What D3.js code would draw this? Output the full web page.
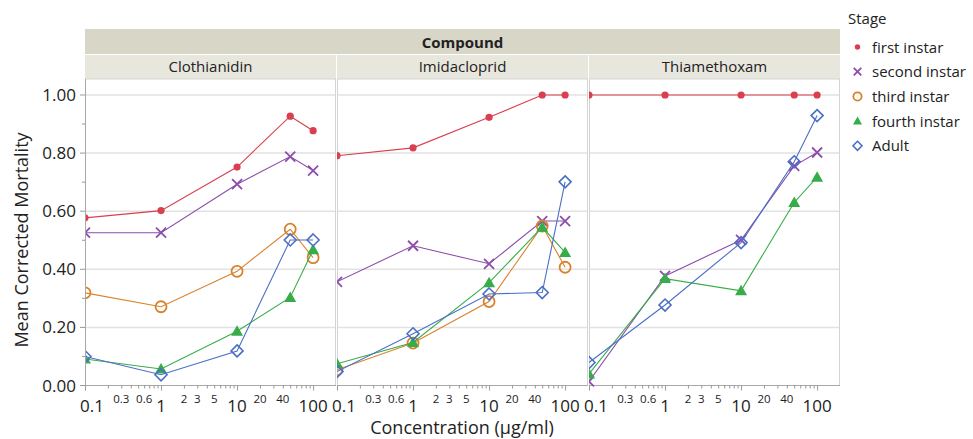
<!DOCTYPE html>
<html>
<head>
<meta charset="utf-8">
<script src="https://cdn.jsdelivr.net/npm/d3@7"></script>
<style>
  body { margin: 0; background: #fff; }
  text { font-family: "Segoe UI", "Open Sans", "Noto Sans", sans-serif; fill: #222; }
</style>
</head>
<body>
<svg id="chart" width="973" height="439"></svg>
<script>
// data
const concentrations = [0.1, 1, 10, 50, 100];
const compounds = ["Clothianidin", "Imidacloprid", "Thiamethoxam"];
const stages = ["first instar", "second instar", "third instar", "fourth instar", "Adult"];

// mortality by stage, one array per compound (null = no data)
const clothianidin = [
  [0.577, 0.602, 0.752, 0.927, 0.877],
  [0.526, 0.526, 0.693, 0.788, 0.740],
  [0.319, 0.271, 0.393, 0.538, 0.440],
  [0.091, 0.057, 0.187, 0.303, 0.467],
  [0.100, 0.037, 0.119, 0.501, 0.501]
];
const imidacloprid = [
  [0.791, 0.818, 0.923, 1.000, 1.000],
  [0.357, 0.481, 0.419, 0.566, 0.566],
  [0.054, 0.146, 0.289, 0.549, 0.407],
  [0.075, 0.148, 0.354, 0.545, 0.458],
  [0.048, 0.178, 0.315, 0.320, 0.701]
];
const thiamethoxam = [
  [1.000, 1.000, 1.000, 1.000, 1.000],
  [0.014, 0.377, 0.501, 0.756, 0.802],
  null,
  [0.040, 0.368, 0.326, 0.630, 0.717],
  [0.079, 0.277, 0.492, 0.770, 0.929]
];
const compoundValues = [clothianidin, imidacloprid, thiamethoxam];

const yTicks = [0, 0.2, 0.4, 0.6, 0.8, 1.0];
const yMinorTicks = [0.1, 0.3, 0.5, 0.7, 0.9];
const xMajorLabels = [0.1, 1, 10, 100];
const xMinorLabels = [0.3, 0.6, 2, 3, 5, 20, 40];

const colors = ["#d9404f", "#8c4dab", "#d9822b", "#36ad48", "#4a6fc6"];

const svg = d3.select("#chart");

// layout
const panelLeft = [85, 337, 589];
const panelW = 251;
const plotTop = 79, plotBottom = 385.5;
const headerTop = 29, subTop = 54;

const x = d3.scaleLog().domain([0.1, 200]).range([0, panelW]);
const y = d3.scaleLinear().domain([0, 1.055]).range([plotBottom, plotTop]);

// header bands
svg.append("rect")
  .attr("x", panelLeft[0]).attr("y", headerTop)
  .attr("width", panelLeft[2] + panelW - panelLeft[0]).attr("height", subTop - headerTop)
  .attr("fill", "#d8d6c7");
svg.append("text")
  .attr("x", (panelLeft[0] + panelLeft[2] + panelW) / 2).attr("y", 47.5)
  .attr("text-anchor", "middle")
  .style("font-size", "15px").style("font-weight", "bold")
  .text("Compound");

function marker(g, type, cx, cy, s, color) {
  if (type === 0) {
    g.append("circle").attr("cx", cx).attr("cy", cy).attr("r", 3.6 * s).attr("fill", color);
  } else if (type === 1) {
    const h = 5 * s;
    g.append("path")
      .attr("d", `M${cx - h},${cy - h}L${cx + h},${cy + h}M${cx - h},${cy + h}L${cx + h},${cy - h}`)
      .attr("stroke", color).attr("stroke-width", 1.8).attr("fill", "none");
  } else if (type === 2) {
    g.append("circle").attr("cx", cx).attr("cy", cy).attr("r", 5.5 * s)
      .attr("fill", "none").attr("stroke", color).attr("stroke-width", 1.8);
  } else if (type === 3) {
    const h = 6 * s;
    g.append("path")
      .attr("d", `M${cx},${cy - h}L${cx + h},${cy + h * 0.75}L${cx - h},${cy + h * 0.75}Z`)
      .attr("fill", color);
  } else {
    const h = 6 * s;
    g.append("path")
      .attr("d", `M${cx},${cy - h}L${cx + h},${cy}L${cx},${cy + h}L${cx - h},${cy}Z`)
      .attr("fill", "none").attr("stroke", color).attr("stroke-width", 1.6);
  }
}

const line = d3.line().x(d => x(d[0])).y(d => y(d[1]));

compounds.forEach((name, p) => {
  const g = svg.append("g").attr("transform", `translate(${panelLeft[p]},0)`);

  // sub header
  g.append("rect").attr("x", 0).attr("y", subTop + 1)
    .attr("width", panelW).attr("height", plotTop - subTop - 1)
    .attr("fill", "#e8e7dd");
  g.append("text").attr("x", panelW / 2).attr("y", 72)
    .attr("text-anchor", "middle").style("font-size", "15px")
    .text(name);

  // grid
  g.selectAll(".grid").data(yTicks.slice(1)).enter().append("line")
    .attr("x1", 0).attr("x2", panelW)
    .attr("y1", d => y(d)).attr("y2", d => y(d))
    .attr("stroke", "#e2e2e2").attr("stroke-width", 1.5);

  // panel frame
  g.append("rect").attr("x", 0.5).attr("y", plotTop)
    .attr("width", panelW - 1).attr("height", plotBottom - plotTop)
    .attr("fill", "none").attr("stroke", "#d4d4d4");

  // x axis
  const minor = [];
  for (let e = -1; e <= 2; e++) {
    for (let m = 1; m <= 9; m++) {
      const v = m * Math.pow(10, e);
      if (v <= 100) minor.push(v);
    }
  }
  g.append("line").attr("x1", 0).attr("x2", panelW).attr("y1", plotBottom).attr("y2", plotBottom)
    .attr("stroke", "#a8a8a8");
  g.selectAll(".xt").data(minor).enter().append("line")
    .attr("x1", d => x(d) + 0.5).attr("x2", d => x(d) + 0.5)
    .attr("y1", plotBottom).attr("y2", d => plotBottom + (xMajorLabels.includes(d) ? 5 : 3))
    .attr("stroke", "#999");
  g.selectAll(".xl").data(xMajorLabels).enter().append("text")
    .attr("x", d => x(d) + (d === 0.1 ? 7 : 0)).attr("y", 412)
    .attr("text-anchor", "middle").style("font-size", "17px")
    .text(d => d);
  g.selectAll(".xm").data(xMinorLabels).enter().append("text")
    .attr("x", d => x(d)).attr("y", 403)
    .attr("text-anchor", "middle").style("font-size", "11.5px")
    .text(d => d);

  // series
  const clipId = "clip" + p;
  g.append("clipPath").attr("id", clipId).append("rect")
    .attr("x", 0).attr("y", plotTop).attr("width", panelW).attr("height", plotBottom - plotTop + 8);
  const plot = g.append("g").attr("clip-path", `url(#${clipId})`);
  compoundValues[p].forEach((vals, s) => {
    if (!vals) return;
    const pts = concentrations.map((c, i) => [c, vals[i]]);
    plot.append("path").attr("d", line(pts))
      .attr("fill", "none").attr("stroke", colors[s]).attr("stroke-width", 1.1);
    pts.forEach(d => marker(plot, s, x(d[0]), y(d[1]), 1, colors[s]));
  });
});

// y axis
const ya = svg.append("g");
ya.append("line").attr("x1", panelLeft[0] + 0.5).attr("x2", panelLeft[0] + 0.5)
  .attr("y1", plotTop).attr("y2", plotBottom).attr("stroke", "#a8a8a8");
ya.selectAll(".yt").data(yTicks).enter().append("line")
  .attr("x1", panelLeft[0] - 5).attr("x2", panelLeft[0])
  .attr("y1", d => y(d)).attr("y2", d => y(d)).attr("stroke", "#999");
ya.selectAll(".ym").data(yMinorTicks).enter().append("line")
  .attr("x1", panelLeft[0] - 3).attr("x2", panelLeft[0])
  .attr("y1", d => y(d)).attr("y2", d => y(d)).attr("stroke", "#999");
ya.selectAll(".yl").data(yTicks).enter().append("text")
  .attr("x", 76).attr("y", d => y(d) + 6)
  .attr("text-anchor", "end").style("font-size", "17px")
  .text(d => d3.format(".2f")(d));

// axis titles
svg.append("text")
  .attr("transform", "translate(28,240) rotate(-90)")
  .attr("text-anchor", "middle").style("font-size", "18px")
  .text("Mean Corrected Mortality");
svg.append("text")
  .attr("x", 462).attr("y", 434)
  .attr("text-anchor", "middle").style("font-size", "18px")
  .text("Concentration (µg/ml)");

// legend
const lg = svg.append("g");
lg.append("text").attr("x", 848).attr("y", 24).style("font-size", "15px").text("Stage");
stages.forEach((s, i) => {
  const cy = 47 + i * 24.7;
  marker(lg, i, 857.5, cy, 0.75, colors[i]);
  lg.append("text").attr("x", 872).attr("y", cy + 5.5).style("font-size", "15px").text(s);
});
</script>
</body>
</html>
